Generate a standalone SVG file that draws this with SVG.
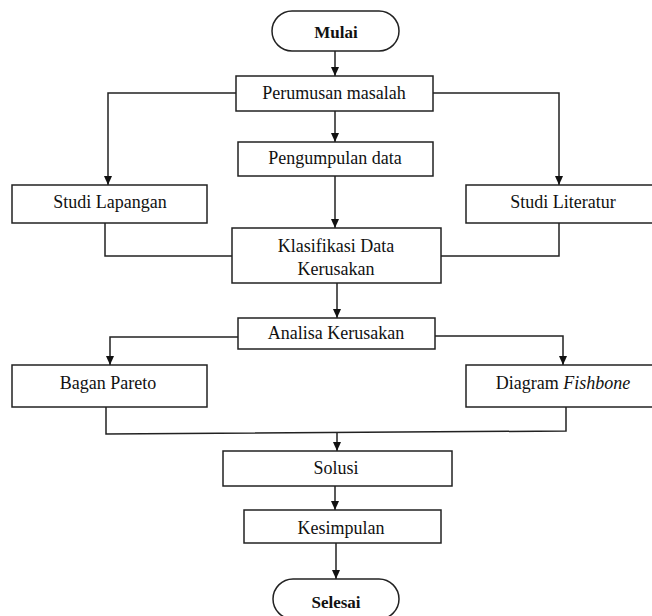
<svg xmlns="http://www.w3.org/2000/svg" width="652" height="616" viewBox="0 0 652 616">
<style>
.box{fill:#fff;stroke:#222;stroke-width:1.5}
.t{font-family:"Liberation Serif","Times New Roman",serif;font-size:18px;fill:#111;text-anchor:middle}
.b{font-weight:bold;font-size:17px}
.c{fill:none;stroke:#222;stroke-width:1.5}
</style>
<defs>
<marker id="ar" markerWidth="10" markerHeight="10" refX="9" refY="5" orient="auto" markerUnits="userSpaceOnUse">
<path d="M0,1 L9,5 L0,9 Z" fill="#111"/>
</marker>
</defs>
<rect width="652" height="616" fill="#fff"/>
<g id="connectors">
<path class="c" d="M335,51 V76" marker-end="url(#ar)"/>
<path class="c" d="M335,111 V142" marker-end="url(#ar)"/>
<path class="c" d="M236,93 H108 V185" marker-end="url(#ar)"/>
<path class="c" d="M433,93 H559 V185" marker-end="url(#ar)"/>
<path class="c" d="M335,176 V228" marker-end="url(#ar)"/>
<path class="c" d="M105,223 V256 H232"/>
<path class="c" d="M559,223 V256 H441"/>
<path class="c" d="M337,283 V318" marker-end="url(#ar)"/>
<path class="c" d="M238,337 H110 V365" marker-end="url(#ar)"/>
<path class="c" d="M435,336 H563 V365" marker-end="url(#ar)"/>
<path class="c" d="M106,407 V434 L566,431 V407"/>
<path class="c" d="M337,433 V451" marker-end="url(#ar)"/>
<path class="c" d="M335,486 V510" marker-end="url(#ar)"/>
<path class="c" d="M336,543 V579" marker-end="url(#ar)"/>
</g>
<g id="mulai"><rect class="box" x="272" y="11" width="127" height="40" rx="20"/><text class="t b" x="336" y="38">Mulai</text></g>
<g id="perumusan"><rect class="box" x="236" y="76" width="197" height="35"/><text class="t" x="334" y="99">Perumusan masalah</text></g>
<g id="pengumpulan"><rect class="box" x="238" y="142" width="195" height="34"/><text class="t" x="335" y="164">Pengumpulan data</text></g>
<g id="studi-lapangan"><rect class="box" x="12" y="185" width="195" height="38"/><text class="t" x="110" y="208">Studi Lapangan</text></g>
<g id="studi-literatur"><rect class="box" x="466" y="185" width="194" height="38"/><text class="t" x="563" y="208">Studi Literatur</text></g>
<g id="klasifikasi"><rect class="box" x="232" y="228" width="209" height="55"/><text class="t" x="336" y="252">Klasifikasi Data</text><text class="t" x="336" y="275">Kerusakan</text></g>
<g id="analisa"><rect class="box" x="238" y="318" width="197" height="31"/><text class="t" x="336" y="339">Analisa Kerusakan</text></g>
<g id="bagan-pareto"><rect class="box" x="12" y="365" width="195" height="42"/><text class="t" x="108" y="389">Bagan Pareto</text></g>
<g id="fishbone"><rect class="box" x="466" y="365" width="194" height="42"/><text class="t" x="563" y="389">Diagram <tspan font-style="italic">Fishbone</tspan></text></g>
<g id="solusi"><rect class="box" x="223" y="451" width="229" height="35"/><text class="t" x="336" y="474">Solusi</text></g>
<g id="kesimpulan"><rect class="box" x="244" y="510" width="197" height="33"/><text class="t" x="341" y="534">Kesimpulan</text></g>
<g id="selesai"><rect class="box" x="273" y="579" width="126" height="40" rx="20"/><text class="t b" x="336" y="608">Selesai</text></g>
</svg>
